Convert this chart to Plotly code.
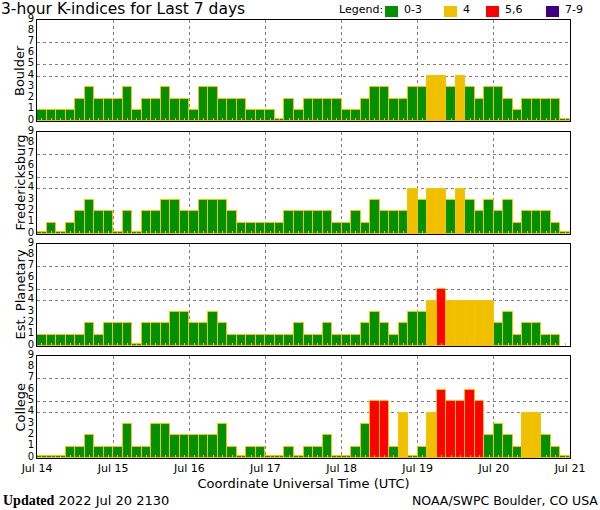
import plotly.graph_objects as go
import pandas as pd

# ---- data ----
stations = ["Boulder", "Fredericksburg", "Est. Planetary", "College"]
boulder = [1, 1, 1, 1, 2, 3, 2, 2,
           2, 3, 1, 2, 2, 3, 2, 2,
           1, 3, 3, 2, 2, 2, 1, 1,
           1, 0, 2, 1, 2, 2, 2, 2,
           1, 1, 2, 3, 3, 2, 2, 3,
           3, 4, 4, 3, 4, 3, 2, 3,
           3, 2, 1, 2, 2, 2, 2, 0]
fredericksburg = [0, 1, 0, 1, 2, 3, 2, 2,
                  0, 2, 0, 2, 2, 3, 3, 2,
                  2, 3, 3, 3, 2, 1, 1, 1,
                  1, 1, 2, 2, 2, 2, 2, 1,
                  1, 2, 1, 3, 2, 2, 2, 4,
                  3, 4, 4, 3, 4, 3, 2, 3,
                  2, 3, 1, 2, 2, 2, 1, 0]
planetary = [1, 1, 1, 1, 1, 2, 1, 2,
             2, 2, 0, 2, 2, 2, 3, 3,
             2, 2, 3, 2, 1, 1, 1, 1,
             1, 1, 1, 2, 1, 1, 2, 1,
             1, 1, 2, 3, 2, 1, 2, 3,
             3, 4, 5, 4, 4, 4, 4, 4,
             2, 3, 1, 2, 2, 1, 1, None]
college = [0, 0, 0, 1, 1, 2, 1, 1,
           1, 3, 1, 1, 3, 3, 2, 2,
           2, 2, 2, 3, 1, 0, 1, 1,
           0, 0, 1, 0, 1, 1, 2, 0,
           0, 1, 3, 5, 5, 1, 4, 0,
           1, 4, 6, 5, 5, 6, 5, 2,
           3, 2, 1, 4, 4, 2, 1, 0]
series = [boulder, fredericksburg, planetary, college]

day_labels = ["Jul 14", "Jul 15", "Jul 16", "Jul 17", "Jul 18", "Jul 19", "Jul 20", "Jul 21"]
y_ticks = list(range(10))
legend_labels = ["0-3", "4", "5,6", "7-9"]
legend_colors = ["#009000", "#F0C000", "#FF0000", "#400080"]

times = pd.date_range("2022-07-14 01:30", periods=56, freq="3h")
days = pd.date_range("2022-07-14", periods=8, freq="D")

BORDER = "#F5C400"
FONT = "DejaVu Sans"


def color_for(v):
    if v is None:
        return legend_colors[0]
    if v <= 3:
        return legend_colors[0]
    if v == 4:
        return legend_colors[1]
    if v <= 6:
        return legend_colors[2]
    return legend_colors[3]


fig = go.Figure()

# panel domains (paper fractions), top to bottom
H = 438.0
domains = [[337 / H, 1.0], [224 / H, 326 / H], [112 / H, 214 / H], [0.0, 102 / H]]

for i, (name, vals) in enumerate(zip(stations, series)):
    k = "" if i == 0 else str(i + 1)
    shown = [None if v is None else (v if v > 0 else 0.17) for v in vals]
    fig.add_trace(go.Bar(
        x=times, y=shown,
        width=3 * 3600 * 1000,
        marker=dict(color=[color_for(v) for v in vals],
                    line=dict(color=BORDER, width=1)),
        xaxis="x" + k, yaxis="y" + k,
        showlegend=False, hoverinfo="skip",
    ))
    last = i == 3
    fig.update_layout(**{
        "xaxis" + k: dict(
            domain=[0, 1], anchor="y" + k,
            range=[days[0], days[-1]],
            tickmode="array", tickvals=list(days),
            ticktext=day_labels if last else [""] * len(days),
            showticklabels=last,
            ticks="",
            showgrid=True, gridcolor="#808080", griddash="dot", gridwidth=1,
            showline=True, linecolor="black", linewidth=1, mirror=True,
            tickfont=dict(family=FONT, size=11, color="black"),
            minor=dict(tickmode="array", tickvals=list(times), ticks="inside",
                       ticklen=3, tickwidth=1, tickcolor=BORDER, showgrid=False),
            zeroline=False,
            title=dict(text="Coordinate Universal Time (UTC)" if last else "",
                       font=dict(family=FONT, size=13, color="black"), standoff=4),
        ),
        "yaxis" + k: dict(
            domain=domains[i], anchor="x" + k,
            range=[0, 9], tickmode="array", tickvals=y_ticks,
            ticktext=[str(t) for t in y_ticks],
            ticks="", showgrid=False, zeroline=False,
            showline=True, linecolor="black", linewidth=1, mirror=True,
            tickfont=dict(family=FONT, size=10, color="black"),
            ticklabelshift=-2,
            minor=dict(tickmode="array", tickvals=[4, 5, 7], showgrid=True,
                       gridcolor="#808080", griddash="dot", gridwidth=1, ticks=""),
        ),
    })
    fig.add_annotation(text=name, textangle=-90, xref="paper", x=0, xshift=-27,
                       yref="y" + k + " domain", y=0.5, showarrow=False,
                       font=dict(family=FONT, size=13, color="black"))

# title
fig.add_annotation(text="3-hour K-indices for Last 7 days", xref="paper", yref="paper",
                   x=0, xshift=-38, y=1, yshift=22, xanchor="left", yanchor="top",
                   showarrow=False, font=dict(family=FONT, size=15.5, color="black"))

# legend
fig.add_annotation(text="Legend:", xref="paper", yref="paper", x=(337 - 37) / 533,
                   y=1, yshift=19, xanchor="left", yanchor="top", showarrow=False,
                   font=dict(family=FONT, size=11, color="black"))
box_x = [385, 444, 486, 546]
for bx, lab, col in zip(box_x, legend_labels, legend_colors):
    x0 = (bx - 37) / 533
    x1 = (bx + 13 - 37) / 533
    fig.add_shape(type="rect", xref="paper", yref="paper", x0=x0, x1=x1,
                  y0=1 + 3 / H, y1=1 + 14 / H, fillcolor=col, line=dict(width=0))
    fig.add_annotation(text=lab, xref="paper", yref="paper", x=x1, xshift=4,
                       y=1, yshift=19, xanchor="left", yanchor="top", showarrow=False,
                       font=dict(family=FONT, size=11, color="black"))

# footer
fig.add_annotation(text="<b><span style='font-family:Liberation Serif;font-size:14px'>Updated</span></b> 2022 Jul 20 2130",
                   xref="paper", yref="paper",
                   x=0, xshift=-36, y=0, yshift=-42, xanchor="left", yanchor="middle",
                   showarrow=False, font=dict(family=FONT, size=13, color="black"))
fig.add_annotation(text="NOAA/SWPC Boulder, CO USA", xref="paper", yref="paper",
                   x=1, xshift=30, y=0, yshift=-42, xanchor="right", yanchor="middle",
                   showarrow=False, font=dict(family=FONT, size=12.5, color="black"))

fig.update_layout(
    width=600, height=510,
    margin=dict(l=37, r=30, t=20, b=52),
    paper_bgcolor="white", plot_bgcolor="white",
    bargap=0, showlegend=False,
)

fig.write_html("out.html", config={"displayModeBar": False},
               post_script="document.body.style.margin='0';")
